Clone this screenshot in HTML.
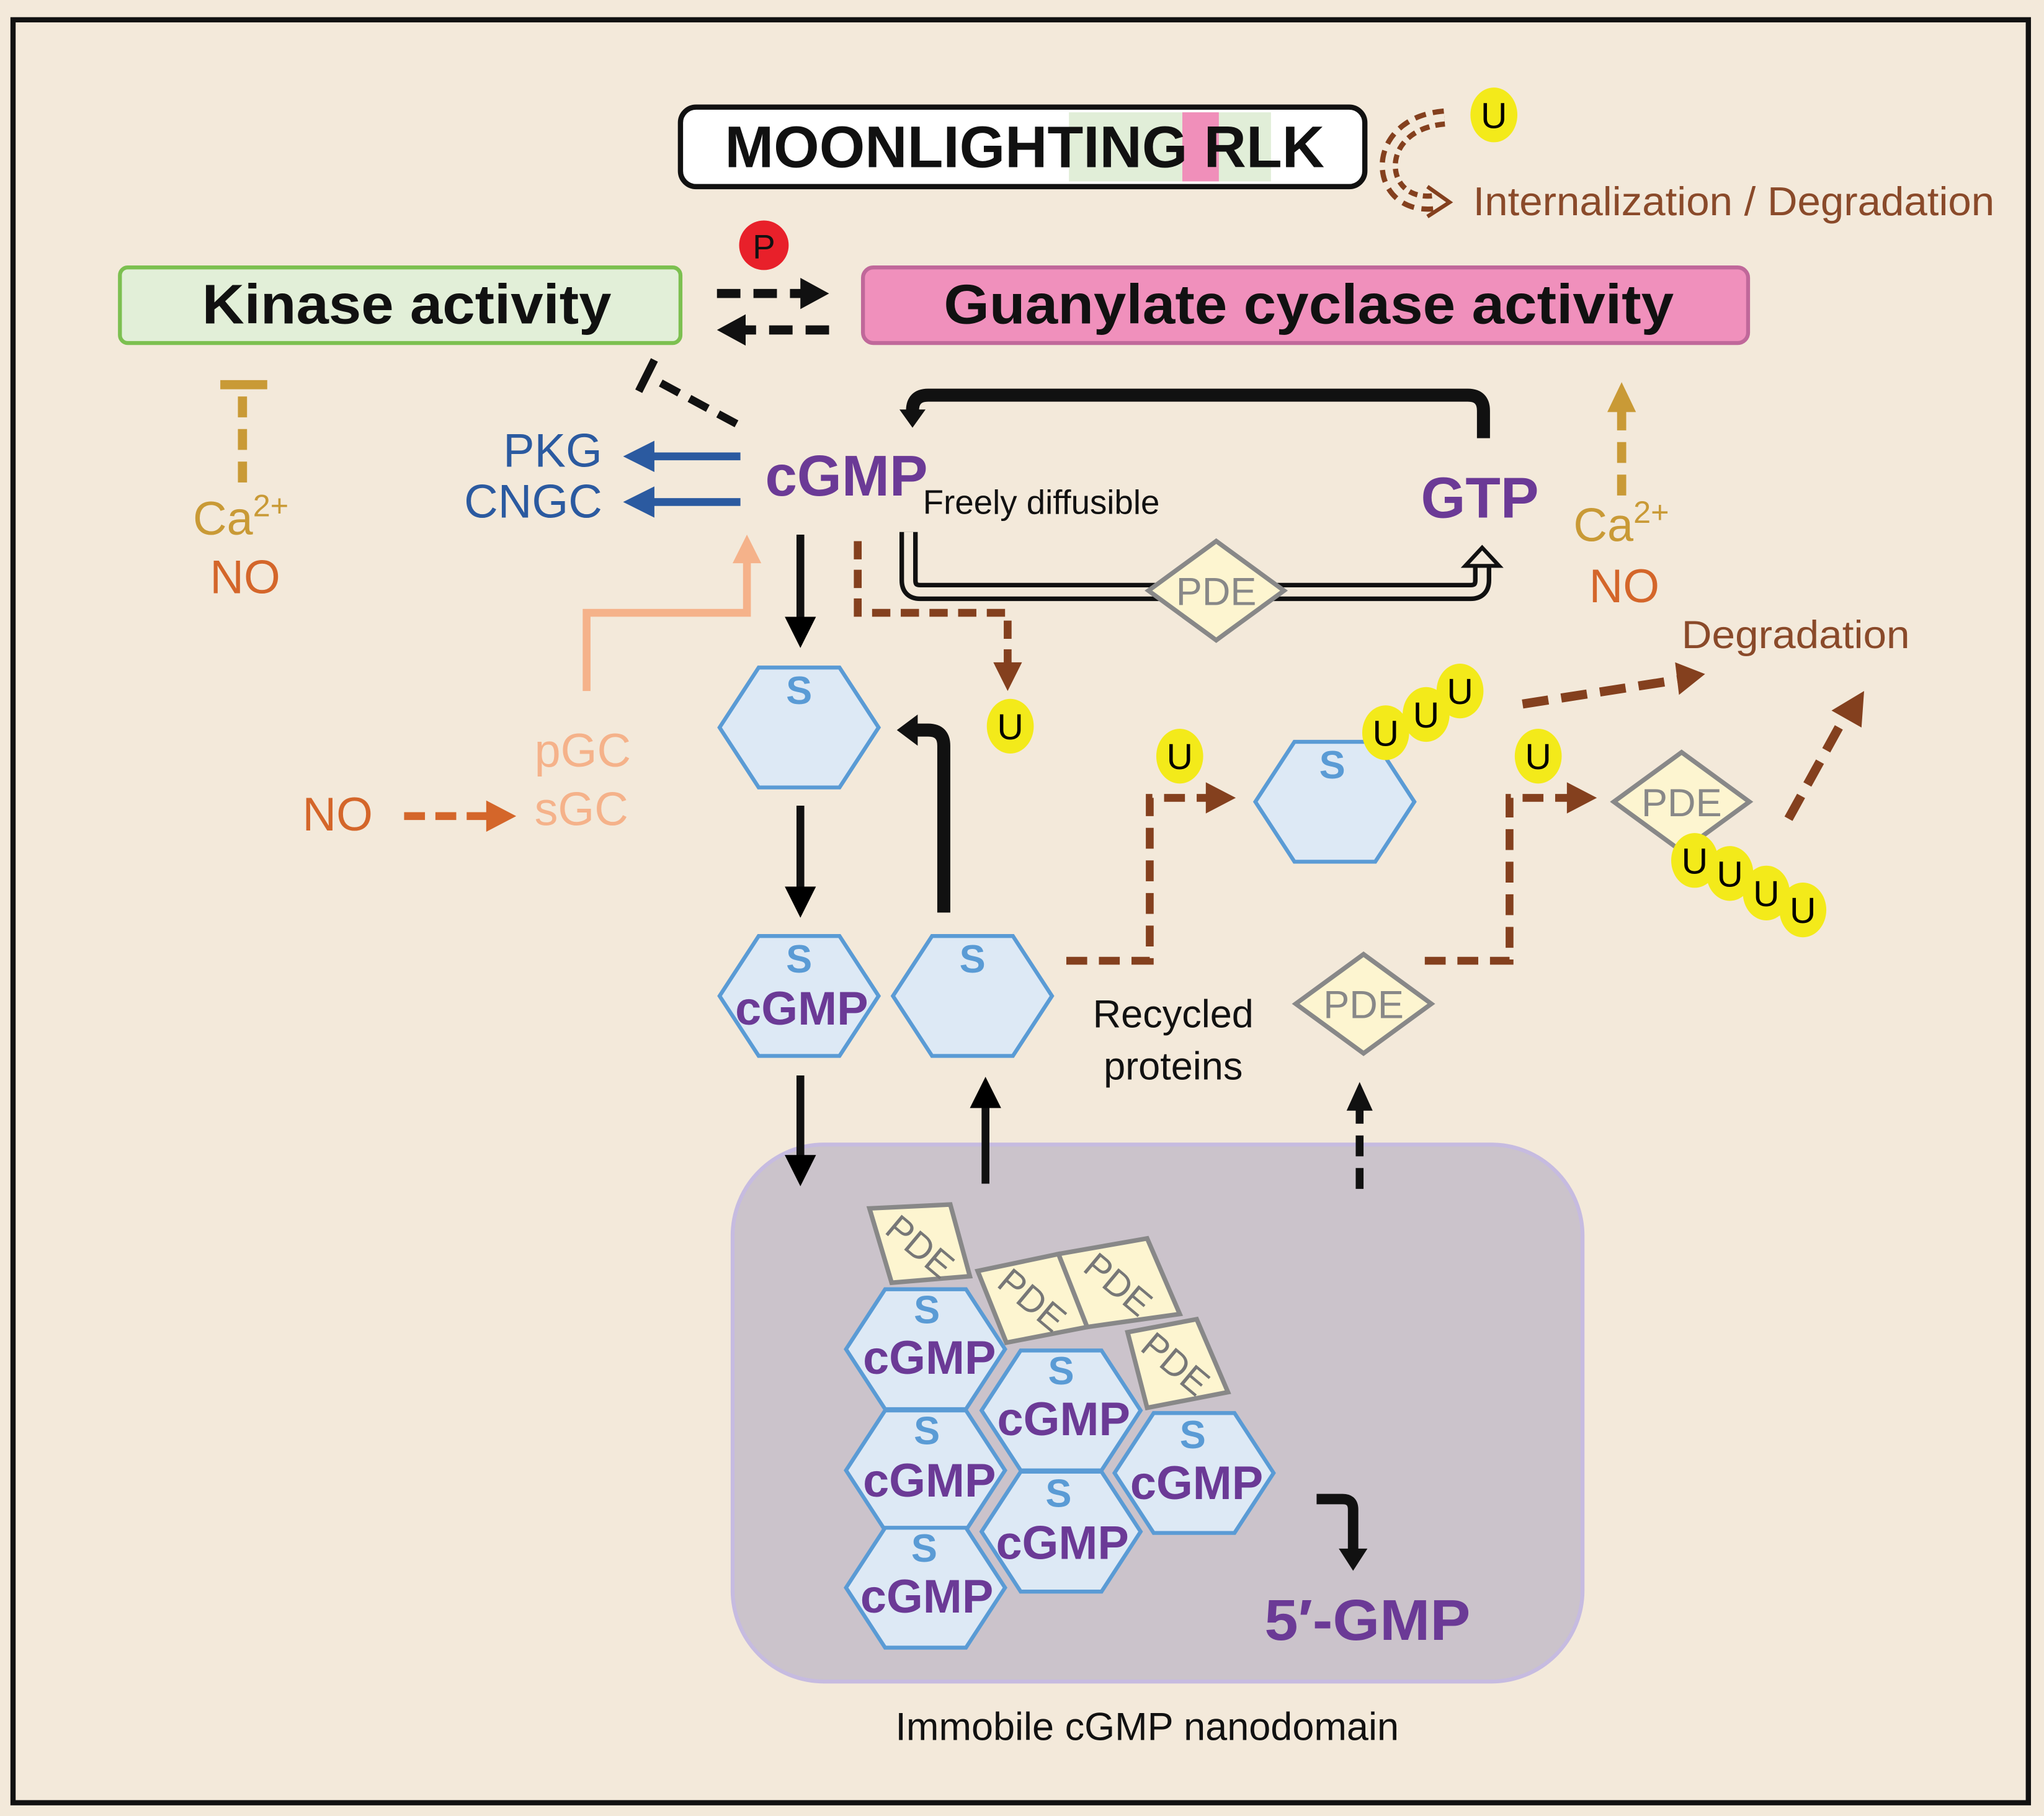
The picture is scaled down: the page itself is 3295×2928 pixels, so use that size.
<!DOCTYPE html>
<html><head><meta charset="utf-8"><style>
html,body{margin:0;padding:0;background:#f3e9da;}
svg{display:block}
text{font-family:"Liberation Sans",sans-serif}
</style></head><body>
<svg width="3295" height="2928" viewBox="0 0 1568 1393" xmlns="http://www.w3.org/2000/svg">
<defs>
<marker id="ab" markerWidth="4" markerHeight="4" refX="2" refY="2" orient="auto" markerUnits="strokeWidth"><path d="M0,0 L4,2 L0,4z" fill="#000"/></marker>
<marker id="abl" markerWidth="4" markerHeight="4" refX="2" refY="2" orient="auto" markerUnits="strokeWidth"><path d="M0,0 L4,2 L0,4z" fill="#2b5aa0"/></marker>
<g id="hex"><polygon points="-61,0 -31,-46 31,-46 61,0 31,46 -31,46" fill="#dde9f5" stroke="#5a9bd5" stroke-width="3"/></g>
<g id="dia"><polygon points="-52,0 0,-38 52,0 0,38" fill="#fdf5d0" stroke="#888" stroke-width="3.5"/><text x="0" y="11" text-anchor="middle" font-size="30" fill="#888">PDE</text></g>
<g id="u"><ellipse cx="0" cy="0" rx="18" ry="21" fill="#f3ea1a"/><text x="0" y="10" text-anchor="middle" font-size="28" fill="#000">U</text></g>
</defs>
<rect x="0" y="0" width="1568" height="1393" fill="#f3e9da"/>
<rect x="10" y="15" width="1546" height="1368" fill="none" stroke="#111" stroke-width="4"/>

<rect x="562" y="878" width="652" height="412" rx="70" fill="#cbc3cb" stroke="#c6bbe0" stroke-width="3"/>

<rect x="522" y="82" width="525" height="61" rx="12" fill="#fff" stroke="#111" stroke-width="4"/>
<rect x="820" y="86" width="155" height="53" fill="#e1eed8"/>
<rect x="907" y="86" width="28" height="53" fill="#f08fba"/>
<text x="786" y="128" text-anchor="middle" font-size="45" font-weight="bold" fill="#111" textLength="460" lengthAdjust="spacingAndGlyphs">MOONLIGHTING RLK</text>
<path d="M1108,90 C1050,95 1055,160 1100,155" fill="none" stroke="#84401e" stroke-width="14" stroke-dasharray="8,5"/>
<path d="M1108,90 C1050,95 1055,160 1100,155" fill="none" stroke="#f3e9da" stroke-width="6"/>
<path d="M1095,143 L1112,155 L1095,166" fill="none" stroke="#84401e" stroke-width="3"/>
<use href="#u" x="1146" y="88"/>
<text x="1130" y="165" font-size="31" fill="#8a4a2a" textLength="400" lengthAdjust="spacingAndGlyphs">Internalization / Degradation</text>

<rect x="92" y="205" width="430" height="58" rx="6" fill="#e2efd8" stroke="#7cc050" stroke-width="3"/>
<text x="312" y="248" text-anchor="middle" font-size="43" font-weight="bold" fill="#111" textLength="314" lengthAdjust="spacingAndGlyphs">Kinase activity</text>
<rect x="662" y="205" width="679" height="58" rx="8" fill="#f090bc" stroke="#c0689a" stroke-width="3"/>
<text x="1004" y="248" text-anchor="middle" font-size="43" font-weight="bold" fill="#111" textLength="560" lengthAdjust="spacingAndGlyphs">Guanylate cyclase activity</text>
<circle cx="586" cy="188" r="19" fill="#e8202a"/>
<text x="586" y="198" text-anchor="middle" font-size="26" fill="#111">P</text>
<line x1="550" y1="225" x2="620" y2="225" stroke="#111" stroke-width="7" stroke-dasharray="18,10"/>
<path d="M614,213 L636,225 L614,237z" fill="#111"/>
<line x1="636" y1="253" x2="566" y2="253" stroke="#111" stroke-width="7" stroke-dasharray="18,10"/>
<path d="M572,241 L550,253 L572,265z" fill="#111"/>

<line x1="565" y1="325" x2="500" y2="290" stroke="#111" stroke-width="6" stroke-dasharray="16,9"/>
<line x1="490" y1="300" x2="502" y2="276" stroke="#111" stroke-width="6"/>
<line x1="186" y1="370" x2="186" y2="297" stroke="#c99a36" stroke-width="7" stroke-dasharray="16,9"/>
<line x1="169" y1="295" x2="205" y2="295" stroke="#c99a36" stroke-width="7"/>
<text x="148" y="410" font-size="36" fill="#c99a36">Ca<tspan font-size="24" dy="-14">2+</tspan></text>
<text x="188" y="455" text-anchor="middle" font-size="36" fill="#d4662a">NO</text>

<text x="462" y="358" text-anchor="end" font-size="36" fill="#2b5aa0">PKG</text>
<text x="462" y="397" text-anchor="end" font-size="36" fill="#2b5aa0">CNGC</text>
<line x1="568" y1="350" x2="490" y2="350" stroke="#2b5aa0" stroke-width="6" marker-end="url(#abl)"/>
<line x1="568" y1="385" x2="490" y2="385" stroke="#2b5aa0" stroke-width="6" marker-end="url(#abl)"/>
<text x="587" y="380" font-size="44" font-weight="bold" fill="#6b3a96">cGMP</text>
<text x="708" y="394" font-size="26" fill="#111">Freely diffusible</text>
<text x="1090" y="397" font-size="44" font-weight="bold" fill="#6b3a96">GTP</text>

<path d="M1138,336 L1138,315 Q1138,303 1126,303 L712,303 Q700,303 700,315 L700,318" fill="none" stroke="#111" stroke-width="10"/>
<path d="M690,314 L700,328 L710,314z" fill="#111"/>

<line x1="1244" y1="380" x2="1244" y2="312" stroke="#c99a36" stroke-width="7" stroke-dasharray="16,9"/>
<path d="M1233,316 L1244,293 L1255,316z" fill="#c99a36"/>
<text x="1207" y="415" font-size="36" fill="#c99a36">Ca<tspan font-size="24" dy="-14">2+</tspan></text>
<text x="1246" y="462" text-anchor="middle" font-size="36" fill="#d4662a">NO</text>

<path d="M697,408 L697,445 Q697,454 706,454 L1128,454 Q1137,454 1137,445 L1137,432" fill="none" stroke="#111" stroke-width="14"/>
<path d="M697,408 L697,445 Q697,454 706,454 L1128,454 Q1137,454 1137,445 L1137,432" fill="none" stroke="#f3e9da" stroke-width="7"/>
<path d="M1124,434 L1137,420 L1150,434z" fill="#f3e9da" stroke="#111" stroke-width="3"/>
<use href="#dia" x="933" y="453"/>

<line x1="614" y1="410" x2="614" y2="485" stroke="#111" stroke-width="6" marker-end="url(#ab)"/>
<path d="M658,415 L658,470 L773,470 L773,515" fill="none" stroke="#84401e" stroke-width="6" stroke-dasharray="14,8"/>
<path d="M762,508 L773,530 L784,508z" fill="#84401e"/>
<use href="#u" x="775" y="557"/>
<path d="M450,530 L450,470 L573,470 L573,428" fill="none" stroke="#f5b28a" stroke-width="6"/>
<path d="M562,432 L573,410 L584,432z" fill="#f5b28a"/>
<text x="410" y="588" font-size="36" fill="#f5b28a">pGC</text>
<text x="410" y="633" font-size="36" fill="#f5b28a">sGC</text>
<text x="232" y="637" font-size="36" fill="#d4662a">NO</text>
<line x1="310" y1="626" x2="378" y2="626" stroke="#d4662a" stroke-width="6" stroke-dasharray="16,8"/>
<path d="M373,614 L396,626 L373,638z" fill="#d4662a"/>

<use href="#hex" x="613" y="558"/>
<text x="613" y="540" text-anchor="middle" font-size="30" font-weight="bold" fill="#5a9bd5">S</text>
<line x1="614" y1="618" x2="614" y2="692" stroke="#111" stroke-width="6" marker-end="url(#ab)"/>
<use href="#hex" x="613" y="764"/>
<text x="613" y="746" text-anchor="middle" font-size="30" font-weight="bold" fill="#5a9bd5">S</text>
<text x="615" y="786" text-anchor="middle" font-size="36" font-weight="bold" fill="#6b3a96">cGMP</text>
<use href="#hex" x="746" y="764"/>
<text x="746" y="746" text-anchor="middle" font-size="30" font-weight="bold" fill="#5a9bd5">S</text>
<path d="M724,700 L724,572 Q724,560 712,560 L702,560" fill="none" stroke="#111" stroke-width="10"/>
<path d="M704,548 L688,560 L704,572z" fill="#111"/>
<line x1="614" y1="825" x2="614" y2="898" stroke="#111" stroke-width="6" marker-end="url(#ab)"/>
<line x1="756" y1="908" x2="756" y2="838" stroke="#111" stroke-width="6" marker-end="url(#ab)"/>
<text x="900" y="788" text-anchor="middle" font-size="30" fill="#111">Recycled</text>
<text x="900" y="828" text-anchor="middle" font-size="30" fill="#111">proteins</text>

<path d="M818,737 L882,737 L882,612 L928,612" fill="none" stroke="#84401e" stroke-width="6" stroke-dasharray="16,9"/>
<path d="M925,600 L948,612 L925,624z" fill="#84401e"/>
<use href="#u" x="905" y="580"/>
<use href="#hex" x="1024" y="615"/>
<text x="1022" y="597" text-anchor="middle" font-size="30" font-weight="bold" fill="#5a9bd5">S</text>
<use href="#u" x="1063" y="562"/>
<use href="#u" x="1094" y="548"/>
<use href="#u" x="1120" y="530"/>
<line x1="1168" y1="540" x2="1290" y2="521" stroke="#84401e" stroke-width="7" stroke-dasharray="20,10"/>
<path d="M1285,508 L1308,517 L1288,533z" fill="#84401e"/>
<text x="1290" y="497" font-size="30" fill="#8a4a2a" textLength="175" lengthAdjust="spacingAndGlyphs">Degradation</text>

<use href="#dia" x="1046" y="770"/>
<line x1="1043" y1="912" x2="1043" y2="850" stroke="#111" stroke-width="6" stroke-dasharray="16,9"/>
<path d="M1033,852 L1043,830 L1053,852z" fill="#111"/>
<path d="M1093,737 L1158,737 L1158,612 L1205,612" fill="none" stroke="#84401e" stroke-width="6" stroke-dasharray="16,9"/>
<path d="M1202,600 L1225,612 L1202,624z" fill="#84401e"/>
<use href="#u" x="1180" y="580"/>
<use href="#dia" x="1290" y="615"/>
<use href="#u" x="1300" y="660"/>
<use href="#u" x="1327" y="670"/>
<use href="#u" x="1355" y="685"/>
<use href="#u" x="1383" y="698"/>
<line x1="1372" y1="628" x2="1415" y2="550" stroke="#84401e" stroke-width="7" stroke-dasharray="20,10"/>
<path d="M1405,545 L1430,530 L1428,558z" fill="#84401e"/>

<g stroke="#888" stroke-width="3.5" fill="#fdf5d0">
<polygon points="667,927 729,924 744,979 684,984"/>
<polygon points="750,975 812,962 834,1018 772,1030"/>
<polygon points="812,962 880,950 905,1008 834,1018"/>
<polygon points="865,1022 918,1012 942,1068 880,1080"/>
</g>
<g font-size="28" fill="#777">
<text transform="translate(706,956) rotate(40)" text-anchor="middle" y="10">PDE</text>
<text transform="translate(792,997) rotate(40)" text-anchor="middle" y="10">PDE</text>
<text transform="translate(858,985) rotate(40)" text-anchor="middle" y="10">PDE</text>
<text transform="translate(902,1046) rotate(40)" text-anchor="middle" y="10">PDE</text>
</g>
<g>
<use href="#hex" x="710" y="1035"/>
<use href="#hex" x="710" y="1128"/>
<use href="#hex" x="710" y="1218"/>
<use href="#hex" x="814" y="1082"/>
<use href="#hex" x="814" y="1175"/>
<use href="#hex" x="916" y="1130"/>
</g>
<g font-size="30" font-weight="bold" fill="#5a9bd5" text-anchor="middle">
<text x="711" y="1015">S</text><text x="711" y="1108">S</text><text x="709" y="1198">S</text>
<text x="814" y="1062">S</text><text x="812" y="1156">S</text><text x="915" y="1111">S</text>
</g>
<g font-size="36" font-weight="bold" fill="#6b3a96" text-anchor="middle">
<text x="713" y="1054">cGMP</text><text x="713" y="1148">cGMP</text><text x="711" y="1237">cGMP</text>
<text x="816" y="1101">cGMP</text><text x="815" y="1196">cGMP</text><text x="918" y="1150">cGMP</text>
</g>
<path d="M1010,1150 L1030,1150 Q1038,1150 1038,1158 L1038,1190" fill="none" stroke="#111" stroke-width="8"/>
<path d="M1027,1188 L1038,1205 L1049,1188z" fill="#111"/>
<text x="970" y="1258" font-size="44" font-weight="bold" fill="#6b3a96" textLength="158" lengthAdjust="spacingAndGlyphs">5′-GMP</text>
<text x="880" y="1335" text-anchor="middle" font-size="30" fill="#111">Immobile cGMP nanodomain</text>
</svg>
</body></html>
